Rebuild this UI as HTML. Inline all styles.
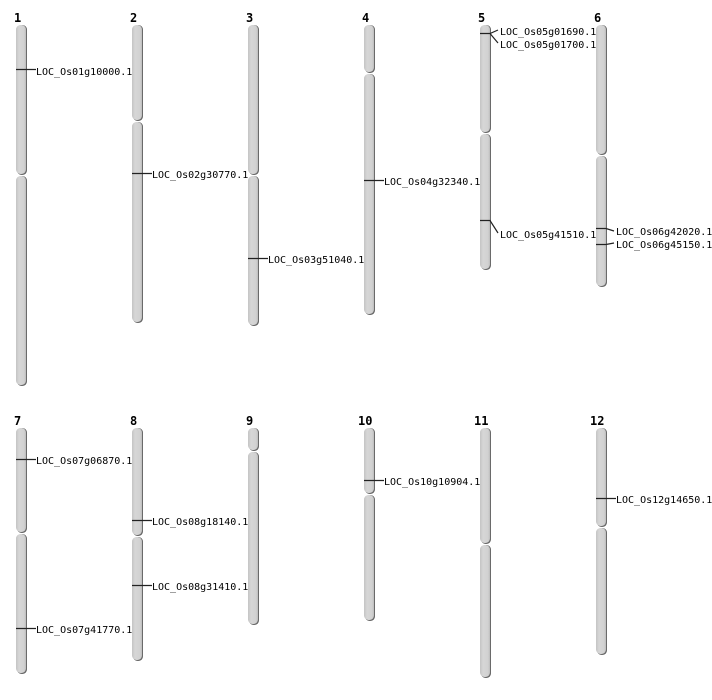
<!DOCTYPE html>
<html><head><meta charset="utf-8"><style>
html,body{margin:0;padding:0;background:#fff;}
svg{display:block;}
.n{font-family:"DejaVu Sans Mono","Liberation Mono",monospace;font-weight:bold;font-size:12px;fill:#000;}
.l{font-family:"DejaVu Sans Mono","Liberation Mono",monospace;font-size:10px;fill:#000;}
</style></head><body>
<svg width="712" height="700" viewBox="0 0 712 700" xmlns="http://www.w3.org/2000/svg">
<defs>
<linearGradient id="g" x1="0" x2="1" y1="0" y2="0">
<stop offset="0" stop-color="#c4c4c4"/><stop offset="0.3" stop-color="#d6d6d6"/><stop offset="0.8" stop-color="#d2d2d2"/><stop offset="1" stop-color="#bdbdbd"/>
</linearGradient>
</defs>
<g id="chroms"></g>
<g fill="none" stroke="#222" stroke-width="1.2">
<path d="M16 69.5H36"/>
<path d="M132 173.5H152"/>
<path d="M248 258.5H268"/>
<path d="M364 180.5H384"/>
<path d="M480 33.5H490L498 30M490 33.5L498 43"/>
<path d="M480 220.5H490L498 233"/>
<path d="M596 228.5H606L614 231M596 244.5H606L614 243"/>
<path d="M16 459.5H36"/>
<path d="M16 628.5H36"/>
<path d="M132 520.5H152"/>
<path d="M132 585.5H152"/>
<path d="M364 480.5H384"/>
<path d="M596 498.5H616"/>
</g>
<g class="n">
<text x="14" y="22">1</text><text x="130" y="22">2</text><text x="246" y="22">3</text><text x="362" y="22">4</text><text x="478" y="22">5</text><text x="594" y="22">6</text>
<text x="14" y="425">7</text><text x="130" y="425">8</text><text x="246" y="425">9</text><text x="358" y="425">10</text><text x="474" y="425">11</text><text x="590" y="425">12</text>
</g>
<g class="l">
<text x="36" y="75">LOC_Os01g10000.1</text>
<text x="152" y="178">LOC_Os02g30770.1</text>
<text x="268" y="263">LOC_Os03g51040.1</text>
<text x="384" y="185">LOC_Os04g32340.1</text>
<text x="500" y="35">LOC_Os05g01690.1</text>
<text x="500" y="48">LOC_Os05g01700.1</text>
<text x="500" y="238">LOC_Os05g41510.1</text>
<text x="616" y="235">LOC_Os06g42020.1</text>
<text x="616" y="248">LOC_Os06g45150.1</text>
<text x="36" y="464">LOC_Os07g06870.1</text>
<text x="36" y="633">LOC_Os07g41770.1</text>
<text x="152" y="525">LOC_Os08g18140.1</text>
<text x="152" y="590">LOC_Os08g31410.1</text>
<text x="384" y="485">LOC_Os10g10904.1</text>
<text x="616" y="503">LOC_Os12g14650.1</text>
</g>
</svg>
<script>
var data=[[16,25,175,386],[132,25,121,323],[248,25,175,326],[364,25,73,315],[480,25,133,270],[596,25,155,287],
[16,428,533,674],[132,428,536,661],[248,428,451,625],[364,428,494,621],[480,428,544,678],[596,428,527,655]];
var g=document.getElementById('chroms'),h='';
data.forEach(function(d){
 var x=d[0],t=d[1],c=d[2],b=d[3];
 [[t,c],[c+1,b]].forEach(function(a){
  h+='<rect x="'+(x+1)+'" y="'+a[0]+'" width="10" height="'+(a[1]-a[0])+'" rx="4.5" fill="#6a6a6a"/>';
  h+='<rect x="'+x+'" y="'+a[0]+'" width="10" height="'+(a[1]-a[0]-1)+'" rx="4.5" fill="url(#g)"/>';
 });
});
g.innerHTML=h;
</script>
</body></html>
